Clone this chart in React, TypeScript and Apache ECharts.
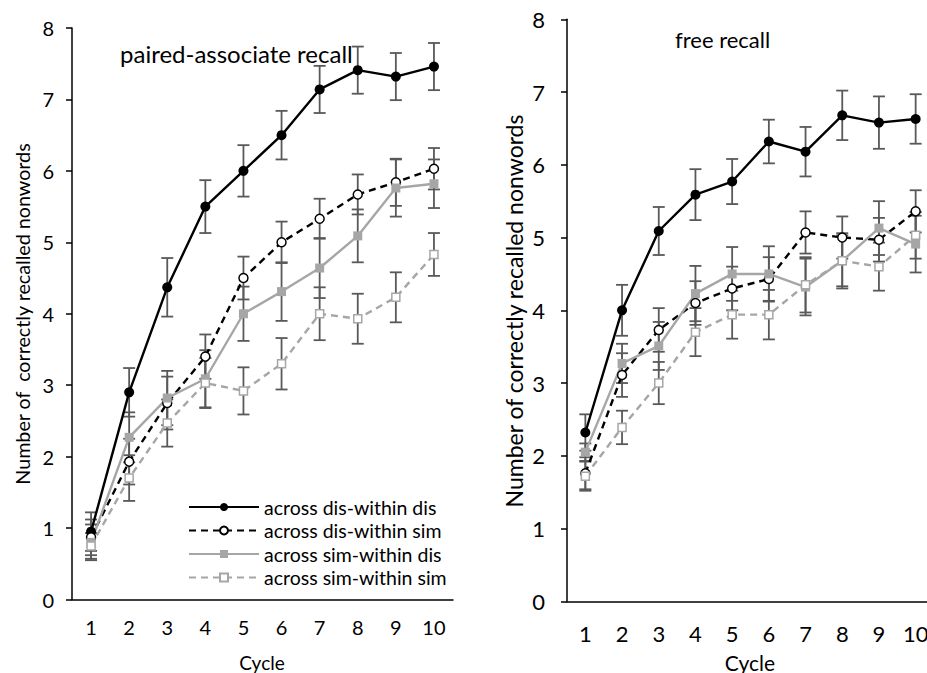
import React, { useEffect, useRef } from "react";
import * as echarts from "echarts";

const cycles = ["1", "2", "3", "4", "5", "6", "7", "8", "9", "10"];
const yTicks = [0, 1, 2, 3, 4, 5, 6, 7, 8];
const seriesNames = [
  "across dis-within dis",
  "across dis-within sim",
  "across sim-within dis",
  "across sim-within sim",
];

// paired-associate recall
const paA = [0.95, 2.9, 4.37, 5.5, 6.0, 6.5, 7.14, 7.41, 7.32, 7.46];
const paAErr = [0.27, 0.34, 0.41, 0.37, 0.36, 0.34, 0.33, 0.33, 0.33, 0.33];
const paB = [0.87, 1.93, 2.75, 3.4, 4.5, 5.0, 5.33, 5.67, 5.84, 6.03];
const paBErr = [0.25, 0.32, 0.37, 0.31, 0.3, 0.29, 0.28, 0.28, 0.33, 0.29];
const paC = [0.8, 2.27, 2.82, 3.09, 4.0, 4.31, 4.64, 5.09, 5.76, 5.82];
const paCErr = [0.25, 0.35, 0.38, 0.4, 0.38, 0.41, 0.42, 0.37, 0.4, 0.34];
const paD = [0.75, 1.7, 2.47, 3.03, 2.92, 3.3, 4.0, 3.93, 4.23, 4.83];
const paDErr = [0.18, 0.32, 0.33, 0.35, 0.33, 0.36, 0.37, 0.35, 0.35, 0.3];

// free recall
const frA = [2.32, 4.0, 5.09, 5.59, 5.77, 6.32, 6.18, 6.68, 6.58, 6.63];
const frAErr = [0.25, 0.35, 0.33, 0.35, 0.31, 0.3, 0.34, 0.34, 0.36, 0.34];
const frB = [1.76, 3.11, 3.73, 4.1, 4.3, 4.43, 5.07, 5.0, 4.97, 5.36];
const frBErr = [0.22, 0.3, 0.3, 0.3, 0.3, 0.3, 0.29, 0.29, 0.3, 0.29];
const frC = [2.05, 3.27, 3.51, 4.23, 4.5, 4.5, 4.32, 4.68, 5.13, 4.91];
const frCErr = [0.12, 0.27, 0.33, 0.38, 0.37, 0.38, 0.39, 0.38, 0.37, 0.39];
const frD = [1.72, 2.39, 3.0, 3.7, 3.94, 3.94, 4.35, 4.68, 4.6, 5.03];
const frDErr = [0.2, 0.23, 0.29, 0.33, 0.33, 0.34, 0.38, 0.35, 0.33, 0.32];

const FONT = "Lato";
const BLACK = "#000000";
const GRAY = "#A6A6A6";
const ERR = "#595959";

const styles = [
  { color: BLACK, type: "solid", symbol: "circle", size: 10, fill: BLACK },
  { color: BLACK, type: [7, 5], symbol: "circle", size: 9, fill: "#ffffff" },
  { color: GRAY, type: "solid", symbol: "rect", size: 9, fill: GRAY },
  { color: GRAY, type: [7, 5], symbol: "rect", size: 8, fill: "#ffffff" },
];

function lineSeries(idx: number, data: number[], gi: number) {
  const s = styles[idx];
  return {
    type: "line",
    name: seriesNames[idx],
    xAxisIndex: gi,
    yAxisIndex: gi,
    data,
    z: 3,
    symbol: s.symbol,
    symbolSize: s.size,
    showAllSymbol: true,
    lineStyle: { color: s.color, width: 2.4, type: s.type },
    itemStyle: { color: s.fill, borderColor: s.color, borderWidth: s.fill === "#ffffff" ? 1.5 : 0 },
  };
}

function errSeries(means: number[][], errs: number[][], gi: number) {
  const data: number[][] = [];
  means.forEach((m, si) => {
    m.forEach((v, i) => {
      data.push([i, v - errs[si][i], v + errs[si][i]]);
    });
  });
  return {
    type: "custom",
    xAxisIndex: gi,
    yAxisIndex: gi,
    z: 2,
    silent: true,
    encode: { x: 0, y: [1, 2] },
    data,
    renderItem: (params: any, api: any) => {
      const x = api.value(0);
      const lo = api.coord([x, api.value(1)]);
      const hi = api.coord([x, api.value(2)]);
      const w = 6;
      const st = { stroke: ERR, lineWidth: 1.8 };
      return {
        type: "group",
        children: [
          { type: "line", shape: { x1: lo[0], y1: lo[1], x2: hi[0], y2: hi[1] }, style: st },
          { type: "line", shape: { x1: lo[0] - w, y1: lo[1], x2: lo[0] + w, y2: lo[1] }, style: st },
          { type: "line", shape: { x1: hi[0] - w, y1: hi[1], x2: hi[0] + w, y2: hi[1] }, style: st },
        ],
      };
    },
  };
}

function xAxis(gi: number, fontSize: number, margin: number) {
  return {
    type: "category",
    gridIndex: gi,
    data: cycles,
    boundaryGap: true,
    axisLine: { lineStyle: { color: BLACK, width: 1.5 } },
    axisTick: { alignWithLabel: true, length: 6, lineStyle: { color: BLACK, width: 1.5 } },
    axisLabel: { color: BLACK, fontFamily: FONT, fontSize, margin, hideOverlap: false },
    splitLine: { show: false },
  };
}

function yAxis(gi: number, fontSize: number, margin: number) {
  return {
    type: "value",
    gridIndex: gi,
    min: yTicks[0],
    max: yTicks[yTicks.length - 1],
    interval: 1,
    axisLine: { show: true, lineStyle: { color: BLACK, width: 1.5 } },
    axisTick: { show: true, length: 6, lineStyle: { color: BLACK, width: 1.5 } },
    axisLabel: { color: BLACK, fontFamily: FONT, fontSize, margin },
    splitLine: { show: false },
  };
}

export default function App() {
  const ref = useRef<HTMLDivElement>(null);
  useEffect(() => {
    if (!ref.current) return;
    const chart = echarts.init(ref.current, undefined, { renderer: "svg" });
    const option: any = {
      animation: false,
      backgroundColor: "#ffffff",
      grid: [
        { left: 72, top: 28, right: 474, bottom: 73.5, containLabel: false, outerBoundsMode: "none" },
        { left: 567, top: 19.3, right: -7, bottom: 71.7, containLabel: false, outerBoundsMode: "none" },
      ],
      xAxis: [xAxis(0, 20, 17), xAxis(1, 22, 21)],
      yAxis: [yAxis(0, 20, 18), yAxis(1, 22, 22)],
      legend: {
        show: true,
        orient: "vertical",
        left: 183,
        top: 492,
        itemWidth: 70,
        itemHeight: 10,
        itemGap: 3.5,
        textStyle: { color: BLACK, fontFamily: FONT, fontSize: 19.5 },
        data: seriesNames,
      },
      series: [
        errSeries([paA, paB, paC, paD], [paAErr, paBErr, paCErr, paDErr], 0),
        lineSeries(0, paA, 0),
        lineSeries(1, paB, 0),
        lineSeries(2, paC, 0),
        lineSeries(3, paD, 0),
        errSeries([frA, frB, frC, frD], [frAErr, frBErr, frCErr, frDErr], 1),
        lineSeries(0, frA, 1),
        lineSeries(1, frB, 1),
        lineSeries(2, frC, 1),
        lineSeries(3, frD, 1),
      ],
      graphic: [
        {
          type: "text",
          x: 120,
          y: 53,
          style: { text: "paired-associate recall", fontFamily: FONT, fontSize: 24, fill: BLACK, verticalAlign: "middle" },
        },
        {
          type: "text",
          x: 675,
          y: 39,
          style: { text: "free recall", fontFamily: FONT, fontSize: 22, fill: BLACK, verticalAlign: "middle" },
        },
        {
          type: "text",
          x: 22,
          y: 314,
          rotation: Math.PI / 2,
          style: {
            text: "Number of  correctly recalled nonwords",
            fontFamily: FONT,
            fontSize: 19.7,
            fill: BLACK,
            align: "center",
            verticalAlign: "middle",
          },
        },
        {
          type: "text",
          x: 514,
          y: 311,
          rotation: Math.PI / 2,
          style: {
            text: "Number of correctly recalled nonwords",
            fontFamily: FONT,
            fontSize: 23,
            fill: BLACK,
            align: "center",
            verticalAlign: "middle",
          },
        },
        {
          type: "text",
          x: 262,
          y: 662,
          style: { text: "Cycle", fontFamily: FONT, fontSize: 19, fill: BLACK, align: "center", verticalAlign: "middle" },
        },
        {
          type: "text",
          x: 750,
          y: 662,
          style: { text: "Cycle", fontFamily: FONT, fontSize: 21, fill: BLACK, align: "center", verticalAlign: "middle" },
        },
      ],
    };
    chart.setOption(option);
    return () => chart.dispose();
  }, []);
  return (
    <div
      ref={ref}
      style={{ position: "absolute", left: 0, top: 0, width: 927, height: 673, background: "#fff" }}
    />
  );
}
